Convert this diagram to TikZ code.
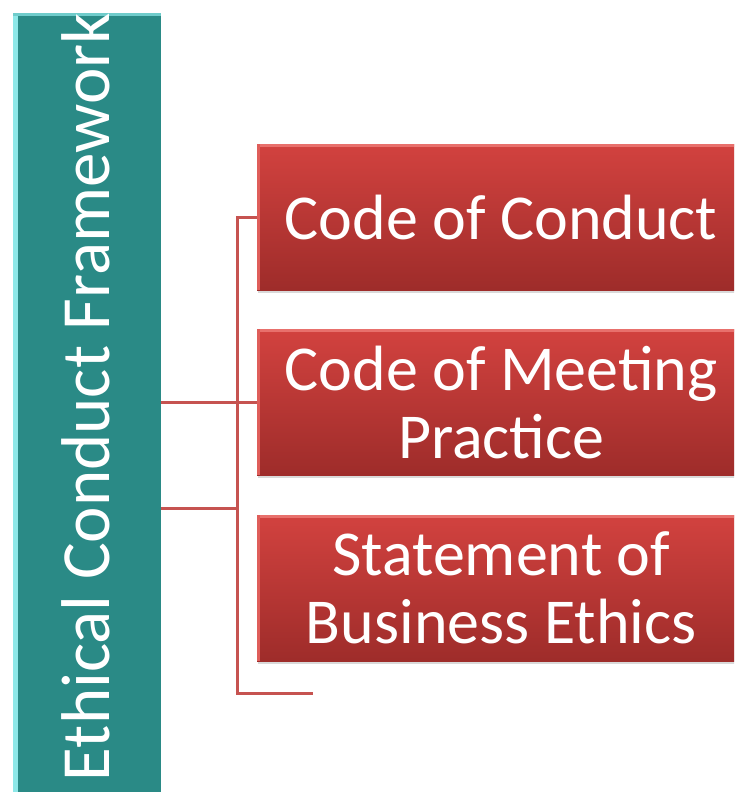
\documentclass[tikz,border=0pt]{standalone}
\usepackage{fontspec}
\setmainfont{Carlito}
\usetikzlibrary{shadows}
\definecolor{teal1}{HTML}{2A8A86}
\definecolor{teal2}{HTML}{8EE8E8}
\definecolor{redtop}{HTML}{D2423F}
\definecolor{redbot}{HTML}{9E2C2A}
\definecolor{redlite}{HTML}{E8706C}
\definecolor{linkred}{HTML}{C65350}
\tikzset{
  leadbox/.style={rectangle, fill=teal1, inner sep=0pt,
    path picture={
      \draw[teal2, line width=10pt]
        (path picture bounding box.south west) -- (path picture bounding box.north west);
      \draw[teal2!70!teal1, line width=6pt]
        (path picture bounding box.north west) -- (path picture bounding box.north east);}},
  leadtext/.style={text=white, inner sep=0pt, rotate=90,
    font=\fontsize{69}{82}\selectfont},
  itembox/.style={rectangle, top color=redtop, bottom color=redbot, text=white,
    inner sep=0pt, align=center, minimum width=488pt, minimum height=146pt,
    anchor=north west, font=\fontsize{64}{68}\selectfont,
    drop shadow={shadow xshift=1pt, shadow yshift=-3pt, opacity=0.3},
    path picture={
      \draw[redlite, line width=6pt]
        (path picture bounding box.north west) -- (path picture bounding box.north east);
      \draw[redlite!60!redtop, line width=6pt]
        (path picture bounding box.north west) -- (path picture bounding box.south west);}},
  link/.style={draw=linkred, line width=3pt}
}
\begin{document}
\begin{tikzpicture}[x=1pt,y=-1pt]
\useasboundingbox (0,0) rectangle (734,792);
\clip (0,0) rectangle (734,792);

% left box
\node[leadbox, minimum width=148pt, minimum height=790pt, anchor=north west] (frame) at (13,13) {};
\node[leadtext] (title) at (86,397) {Ethical Conduct Framework};

% items
\node[itembox] (code1) at (257,144) {Code of Conduct};
\node[itembox] (code2) at (257,329) {Code of Meeting\\Practice};
\node[itembox] (ethics) at (257,515) {Statement of\\Business Ethics};

\coordinate (joint) at (237,508);
\coordinate (corner) at (237,693);
\coordinate (tail) at (313,693);

% connectors
\draw[link] (code1.west) -| (corner) -- (tail);
\draw[link] (frame.east |- code2.west) -- (code2.west);
\draw[link] (frame.east |- joint) -- (joint);
\end{tikzpicture}
\end{document}
